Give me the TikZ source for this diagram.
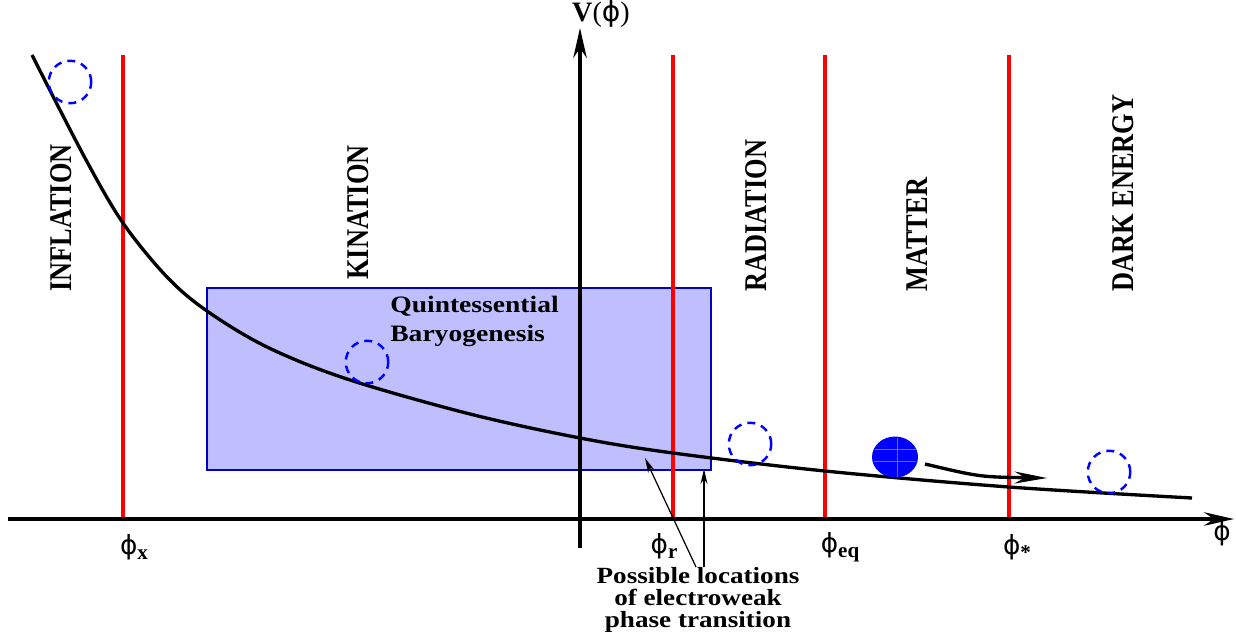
\documentclass[tikz,border=0pt]{standalone}
\usepackage{fontspec}
\setmainfont{Liberation Serif}
\newfontfamily\widefont[FakeStretch=1.17]{Liberation Serif}
\newfontfamily\phifont{DejaVu Sans}
\usetikzlibrary{arrows.meta, positioning, shapes.geometric}

\newcommand{\philab}[1]{{\phifont ϕ}\raisebox{-0.45ex}{\bfseries\fontsize{12}{12}\selectfont #1}}

\begin{document}
\begin{tikzpicture}[
    x=0.02cm, y=-0.02cm,
    era/.style={rotate=90, anchor=west, inner sep=0pt, font=\bfseries\fontsize{15}{15}\selectfont},
    boundary/.style={red, line width=1.9pt},
    axis/.style={-{Stealth[length=0.6cm, width=0.27cm]}, line width=1.9pt},
    potential/.style={line width=1.9pt},
    field/.style={draw=blue, dashed, dash pattern=on 4.5pt off 3.5pt, line width=1.4pt, circle, minimum size=0.85cm, inner sep=0pt},
    ball/.style={ellipse, fill=blue, minimum width=0.92cm, minimum height=0.82cm, inner sep=0pt},
    motion/.style={-{Stealth[length=0.65cm, width=0.24cm]}, line width=1.9pt},
    pointer/.style={-{Stealth[length=0.3cm, width=0.14cm]}, line width=0.7pt},
    tick/.style={font=\fontsize{15}{15}\selectfont},
    caption/.style={font=\widefont\bfseries\fontsize{13.2}{12.3}\selectfont, align=center, inner sep=0pt}
]
    \useasboundingbox (0,0) rectangle (1236,636);

    % baryogenesis window
    \draw[draw=blue!75!black, line width=0.6pt, fill={rgb,255:red,191;green,191;blue,255}]
        (207,288) rectangle (711,470);
    \node[caption, align=left, anchor=north west,
          font=\widefont\bfseries\fontsize{13.4}{16.5}\selectfont] (qb) at (390,296) {Quintessential\\Baryogenesis};

    % era boundaries
    \foreach \bx in {123,673,825,1009}
        \draw[boundary] (\bx,55) -- (\bx,519);

    % eras
    \node[era] (inflation) at (61,292) {\scalebox{1}[1.2]{INFLATION}};
    \node[era] (kination) at (358,280) {\scalebox{1}[1.2]{KINATION}};
    \node[era] (radiation) at (756,292) {\scalebox{1}[1.2]{RADIATION}};
    \node[era] (matter) at (917,292) {\scalebox{1}[1.2]{MATTER}};
    \node[era] (darkenergy) at (1123,292) {\scalebox{1}[1.2]{DARK ENERGY}};

    % potential
    \draw[potential] plot[smooth, tension=0.55] coordinates {
        (32,55) (85,158) (123,223) (167,277) (207,311) (267,347) (347,379)
        (470,414) (580,438) (673,453) (825,471) (1009,487) (1192,498)};

    % axes
    \coordinate (xstart) at (8,519);
    \coordinate (xend) at (1234,519);
    \coordinate (ystart) at (580,548);
    \coordinate (yend) at (580,28);
    \draw[axis] (xstart) -- (xend);
    \draw[axis] (ystart) -- (yend);
    \node[tick, font=\fontsize{16}{16}\selectfont] (vlab) at (601,14) {\textbf{V}({\phifont ϕ})};
    \node[tick] (philab) at (1222,533) {{\phifont ϕ}};

    \node[tick] (phix) at (134,547) {\philab{x}};
    \node[tick] (phir) at (664,546) {\philab{r}};
    \node[tick] (phieq) at (840,547) {\philab{eq}};
    \node[tick] (phistar) at (1017,547) {\philab{*}};

    % field positions
    \node[field] (f1) at (70,82) {};
    \node[field] (f2) at (367,362) {};
    \node[field] (f3) at (750,444) {};
    \node[field] (f4) at (1109,472) {};

    \node[ball] (now) at (895,457) {};
    \draw[blue!60!white, line width=0.3pt] (875,449) -- (917,449);
    \draw[blue!60!white, line width=0.3pt] (874,461) -- (916,461);
    \draw[blue!60!white, line width=0.3pt] (897,438) -- (897,477);

    \coordinate (rollstart) at (925,464);
    \coordinate (rollend) at (1047,478);
    \draw[motion] (rollstart) .. controls (980,477) .. (rollend);

    % electroweak transition
    \node[caption] (ew) at (698,600) {Possible locations\\of electroweak\\phase transition};
    \coordinate (ewa) at (645,458);
    \coordinate (ewb) at (704,469);
    \draw[pointer] (696,567) -- (ewa);
    \draw[pointer] (704,567) -- (ewb);
\end{tikzpicture}
\end{document}
